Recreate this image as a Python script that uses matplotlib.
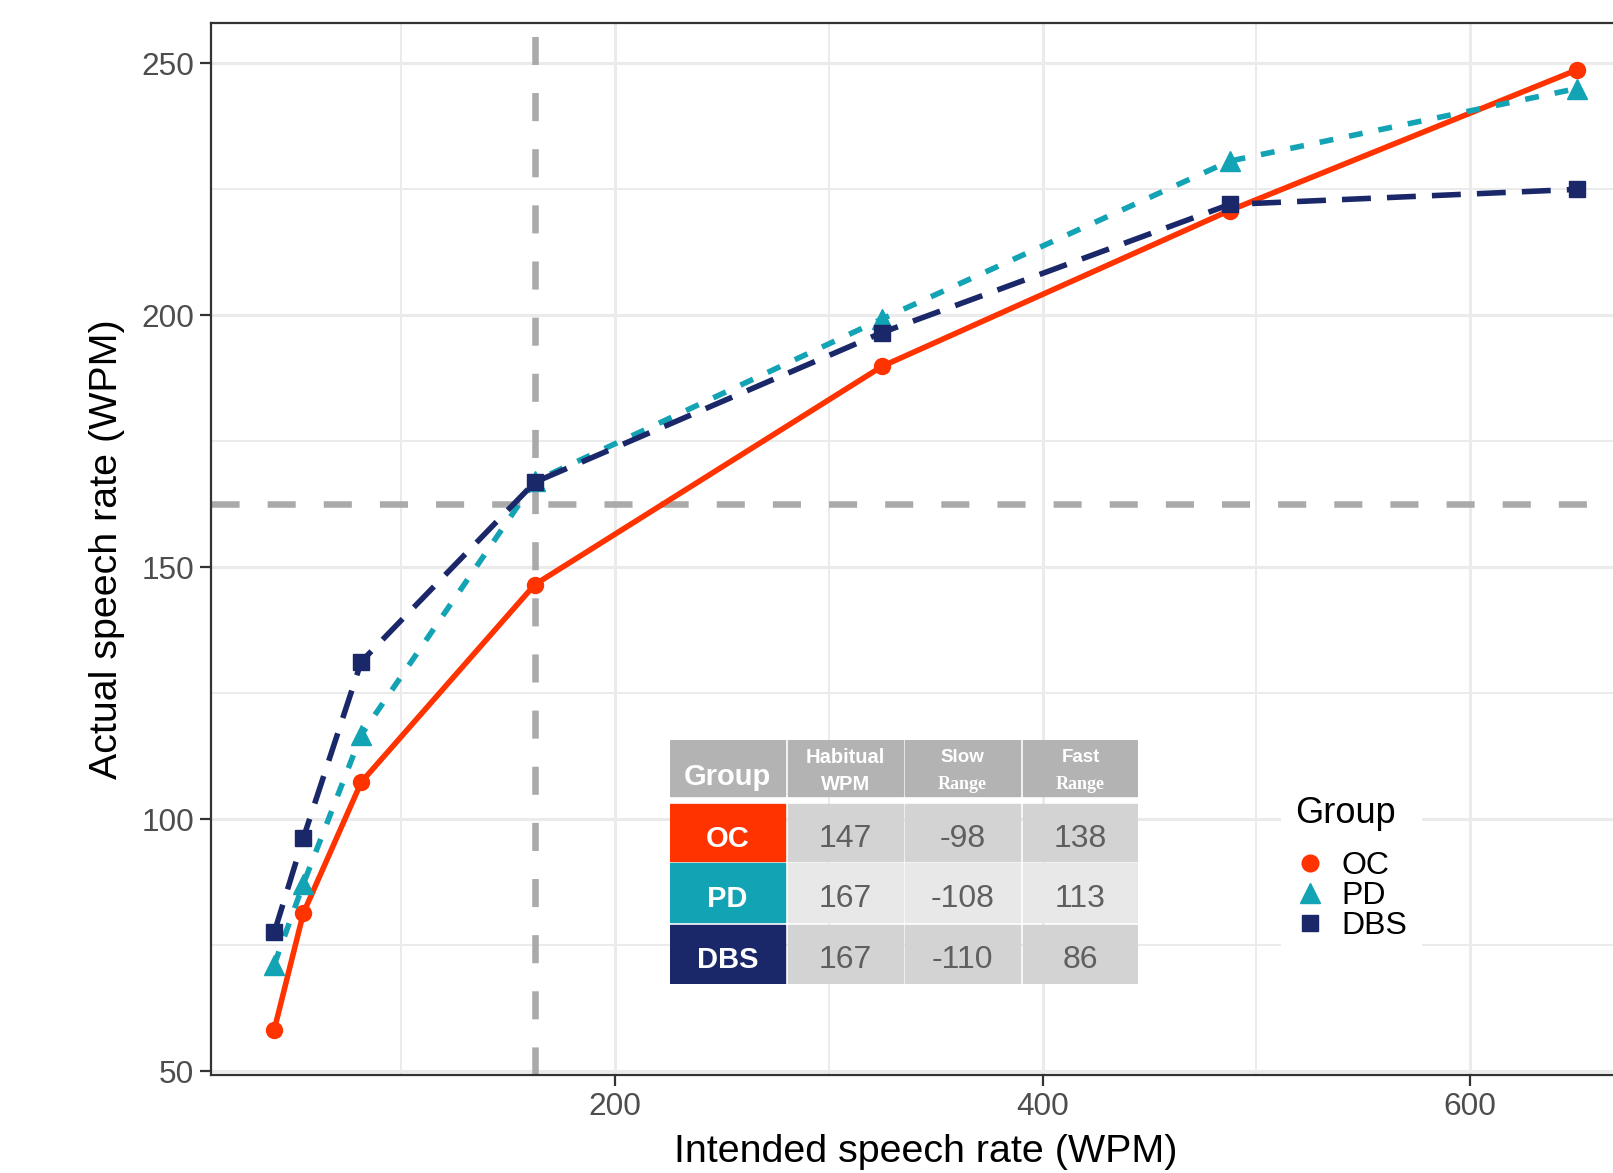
import matplotlib.pyplot as plt
from matplotlib.lines import Line2D
from matplotlib.patches import Rectangle
from matplotlib.ticker import MultipleLocator

plt.rcParams['font.family'] = ['Liberation Sans', 'DejaVu Sans']

# intended rate (WPM) and measured rate per group
intended = [40.6, 54.2, 81.3, 162.5, 325, 487.5, 650]
oc = [58.3, 81.4, 107.4, 146.6, 189.9, 220.8, 248.7]
pd_ = [71.2, 87.2, 116.8, 167.1, 199.3, 230.6, 245.0]
dbs = [77.6, 96.3, 131.3, 166.9, 196.6, 222.0, 225.0]
habitual = 162.5

groups = ['OC', 'PD', 'DBS']
colors = ['#FF3300', '#12A3B4', '#1A2869']

# summary table
table_header = ['Group', 'Habitual', 'WPM', 'Slow', 'Fast']
table_rows = [['147', '-98', '138'],
              ['167', '-108', '113'],
              ['167', '-110', '86']]

fig = plt.figure(figsize=(16.13, 11.73), dpi=100)
ax = fig.add_axes([211 / 1613, 1 - 1075 / 1173, 1429 / 1613, 1052 / 1173])

ax.set_xlim(11.0, 679.5)
ax.set_ylim(49.3, 258.0)
ax.xaxis.set_major_locator(MultipleLocator(200))
ax.xaxis.set_minor_locator(MultipleLocator(100))
ax.yaxis.set_major_locator(MultipleLocator(50))
ax.yaxis.set_minor_locator(MultipleLocator(25))
ax.grid(which='major', color='#EBEBEB', lw=2.2, zorder=0)
ax.grid(which='minor', color='#EBEBEB', lw=1.4, zorder=0)
ax.set_axisbelow(True)
for s in ax.spines.values():
    s.set_color('#333333')
    s.set_linewidth(1.6)
ax.tick_params(which='major', length=8, width=1.6, color='#333333',
               labelsize=22.8, labelcolor='#4D4D4D', pad=4)
ax.tick_params(which='minor', length=0)

ax.axvline(habitual, color='#AAAAAA', lw=4.7, dashes=(4.3, 4.3), zorder=1)
ax.axhline(habitual, color='#AAAAAA', lw=4.7, dashes=(4.3, 4.3), zorder=1)

ax.plot(intended, oc, color=colors[0], lw=4.0, marker='o', ms=11.5, zorder=3)
ax.plot(intended, pd_, color=colors[1], lw=4.0, marker='^', ms=14,
        dashes=(2.5, 2.9), zorder=4)
ax.plot(intended, dbs, color=colors[2], lw=4.0, marker='s', ms=11.5,
        dashes=(5.2, 2.9), zorder=5)

ax.set_xlabel('Intended speech rate (WPM)', fontsize=28.4, labelpad=9)
ax.set_ylabel('Actual speech rate (WPM)', fontsize=28.4, labelpad=12)

# legend
handles = [Line2D([], [], color=colors[0], marker='o', ls='none', ms=12),
           Line2D([], [], color=colors[1], marker='^', ls='none', ms=14),
           Line2D([], [], color=colors[2], marker='s', ls='none', ms=12)]
leg = fig.legend(handles, groups, title='Group', loc='upper left',
                 bbox_to_anchor=(1265 / 1613, 1 - 766 / 1173), fontsize=23,
                 title_fontsize=26, frameon=True, facecolor='white',
                 edgecolor='none', framealpha=1, labelspacing=0.0,
                 handlelength=0.9, handletextpad=0.55, borderpad=0.45,
                 alignment='left')
leg._legend_box.sep = 14

# inset table, drawn in reference pixel coordinates
tax = fig.add_axes([670 / 1613, 1 - 983.5 / 1173, 468 / 1613, 243.5 / 1173])
tax.set_xlim(670, 1138)
tax.set_ylim(983.5, 740)
tax.axis('off')
col_edges = [(670, 785), (788, 903), (905, 1020), (1023, 1138)]
row_edges = [(740, 796), (804, 861), (863, 922), (925, 983.5)]
row_fill = ['#D3D3D3', '#E8E8E8', '#D3D3D3']
header_gray = '#B3B3B3'

for (x0, x1) in col_edges:
    y0, y1 = row_edges[0]
    tax.add_patch(Rectangle((x0, y0), x1 - x0, y1 - y0, color=header_gray))
tax.text(727.5, 777, table_header[0], ha='center', va='center',
         color='white', fontsize=21, fontweight='bold')
tax.text(845.5, 757, table_header[1], ha='center', va='center',
         color='white', fontsize=14.5, fontweight='bold')
tax.text(845.5, 784, table_header[2], ha='center', va='center',
         color='white', fontsize=14.5, fontweight='bold')
for i, word in [(2, table_header[3]), (3, table_header[4])]:
    xc = sum(col_edges[i]) / 2
    tax.text(xc, 757, word, ha='center', va='center', color='white',
             fontsize=13.5, fontweight='bold')
    tax.text(xc, 784, 'Range', ha='center', va='center', color='white',
             fontsize=13, fontweight='bold', family='Liberation Serif')

for r, (name, vals) in enumerate(zip(groups, table_rows)):
    y0, y1 = row_edges[r + 1]
    yc = (y0 + y1) / 2 + 6
    x0, x1 = col_edges[0]
    tax.add_patch(Rectangle((x0, y0), x1 - x0, y1 - y0, color=colors[r]))
    tax.text((x0 + x1) / 2, yc, name, ha='center', va='center',
             color='white', fontsize=21, fontweight='bold')
    for c, v in enumerate(vals):
        x0, x1 = col_edges[c + 1]
        tax.add_patch(Rectangle((x0, y0), x1 - x0, y1 - y0, color=row_fill[r]))
        tax.text((x0 + x1) / 2, yc, v, ha='center', va='center',
                 color='#5F5F5F', fontsize=23)

fig.savefig('out.png', dpi=100)
